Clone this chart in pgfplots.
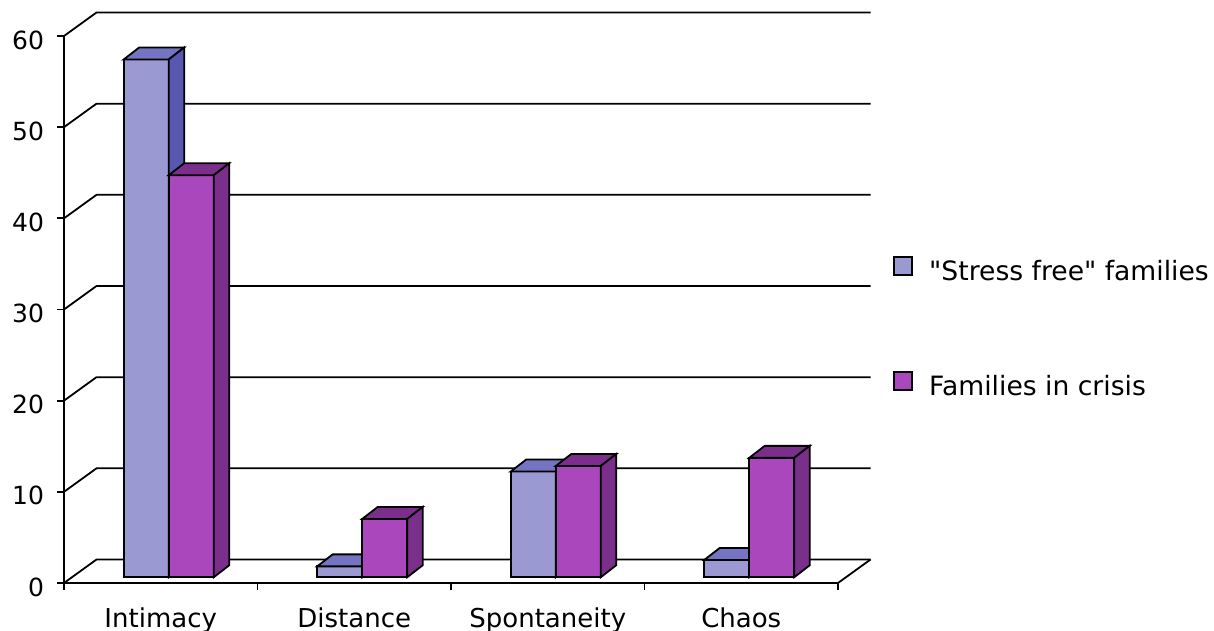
\documentclass[border=0pt]{standalone}
\usepackage{pgfplots}
\pgfplotsset{compat=1.18}
\usepackage{pgfplotstable}
\usepackage{fontspec}
\setmainfont{DejaVu Sans}[Ligatures=TeXOff]
\definecolor{sffront}{HTML}{9B99D2}
\definecolor{sftop}{HTML}{7474C2}
\definecolor{sfside}{HTML}{5757B0}
\definecolor{crfront}{HTML}{AB47BC}
\definecolor{crtop}{HTML}{7C2E8C}
\definecolor{crside}{HTML}{7A2F8A}

\pgfplotstableread{
x   sf    cr
0.5 56.8  44.1
1.5 1.2   6.4
2.5 11.6  12.2
3.5 1.9   13.1
}\data

\newdimen\barh
\newdimen\barhb
% front, top and side faces of a bar, drawn at its front-top-right corner
\newcommand\boxfaces[3]{%
  \pgfmathsetlength\barh{\val*4.5583pt}%
  \pgfmathsetlength\barhb{6pt-\barh}%
  \pgfsetstrokecolor{black}%
  \pgfsetfillcolor{#1}%
  \pgfpathmoveto{\pgfqpoint{-22.49pt}{0pt}}%
  \pgfpathlineto{\pgfqpoint{0pt}{0pt}}%
  \pgfpathlineto{\pgfqpoint{0pt}{-\barh}}%
  \pgfpathlineto{\pgfqpoint{-22.49pt}{-\barh}}%
  \pgfpathclose
  \pgfusepath{fill,stroke}%
  \pgfsetfillcolor{#2}%
  \pgfpathmoveto{\pgfqpoint{-22.49pt}{0pt}}%
  \pgfpathlineto{\pgfqpoint{0pt}{0pt}}%
  \pgfpathlineto{\pgfqpoint{7.75pt}{6pt}}%
  \pgfpathlineto{\pgfqpoint{-14.74pt}{6pt}}%
  \pgfpathclose
  \pgfusepath{fill,stroke}%
  \pgfsetfillcolor{#3}%
  \pgfpathmoveto{\pgfqpoint{0pt}{0pt}}%
  \pgfpathlineto{\pgfqpoint{7.75pt}{6pt}}%
  \pgfpathlineto{\pgfqpoint{7.75pt}{\barhb}}%
  \pgfpathlineto{\pgfqpoint{0pt}{-\barh}}%
  \pgfpathclose
  \pgfusepath{fill,stroke}%
}
\pgfdeclareplotmark{sfbox}{\boxfaces{sffront}{sftop}{sfside}}
\pgfdeclareplotmark{crbox}{\boxfaces{crfront}{crtop}{crside}}

\pgfplotsset{
  wall/.style={black, line width=0.9pt, forget plot, mark=none},
  sq legend/.style={legend image code/.code={%
      \draw[fill=#1, draw=black, line width=0.9pt] (0pt,-4.5pt) rectangle (9pt,4.5pt);
      \path (17pt,0pt);}},
}

\begin{document}
\begin{tikzpicture}
\begin{axis}[
  scale only axis, width=387pt, height=273.5pt,
  xmin=0, xmax=4, ymin=0, ymax=60,
  clip=false,
  axis x line=bottom, axis y line=left,
  axis line style={-, line width=0.9pt, black},
  tick align=outside,
  major tick length=3.5pt,
  tick style={black, line width=0.9pt},
  ytick={0,10,...,60},
  xtick={0,1,2,3,4},
  xticklabels={},
  extra x ticks={0.5,1.5,2.5,3.5},
  extra x tick labels={Intimacy,Distance,Spontaneity,Chaos},
  extra x tick style={major tick length=0pt,
    tick label style={font=\fontsize{13}{15}\selectfont, text height=9.5pt, text depth=2.5pt, yshift=-9pt}},
  yticklabel style={font=\fontsize{12.5}{15}\selectfont, xshift=-3pt, yshift=-2pt},
  /pgf/number format/assume math mode=true,
  legend style={draw=none, fill=none, at={(1.0711,0.468)}, anchor=west, inner sep=0pt,
    row sep=44pt, font=\fontsize{13.3}{15}\selectfont, nodes={inner sep=0pt}},
  legend cell align=left,
]
% walls and gridlines
\addplot[wall] coordinates {(0,0)  (0.168,2.578)  (4.168,2.578)};
\addplot[wall] coordinates {(0,10) (0.168,12.578) (4.168,12.578)};
\addplot[wall] coordinates {(0,20) (0.168,22.578) (4.168,22.578)};
\addplot[wall] coordinates {(0,30) (0.168,32.578) (4.168,32.578)};
\addplot[wall] coordinates {(0,40) (0.168,42.578) (4.168,42.578)};
\addplot[wall] coordinates {(0,50) (0.168,52.578) (4.168,52.578)};
\addplot[wall] coordinates {(0,60) (0.168,62.578) (4.168,62.578)};
\addplot[wall] coordinates {(4,0) (4.168,2.578)};

% "Stress free" families
\addplot[ybar, sq legend=sffront, bar width=0.2325, bar shift=-0.07525, fill=sffront, draw=black,
  line width=0.9pt, yshift=2.85pt] table[x=x, y=sf]{\data};
\addlegendentry{"Stress free" families}
\addplot[only marks, mark=sfbox, forget plot, yshift=2.85pt, line width=0.9pt,
  visualization depends on={rawy\as\val}] table[x expr=\thisrow{x}+0.041, y=sf]{\data};

% Families in crisis
\addplot[ybar, sq legend=crfront, bar width=0.2325, bar shift=0.15725, fill=crfront, draw=black,
  line width=0.9pt, yshift=2.85pt] table[x=x, y=cr]{\data};
\addlegendentry{Families in crisis}
\addplot[only marks, mark=crbox, forget plot, yshift=2.85pt, line width=0.9pt,
  visualization depends on={rawy\as\val}] table[x expr=\thisrow{x}+0.2735, y=cr]{\data};
\end{axis}
\pgfresetboundingbox
\path (current axis.south west) ++(-32pt,-24pt) rectangle ++(607pt,315.5pt);
\end{tikzpicture}
\end{document}
